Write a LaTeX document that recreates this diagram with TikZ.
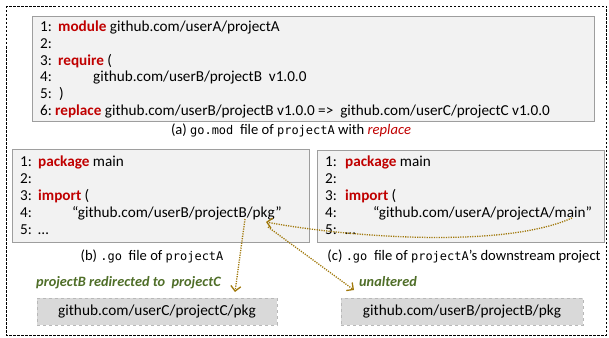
\documentclass[tikz,border=0pt]{standalone}
\usepackage{fontspec}
\setmainfont{Carlito}
\setmonofont{DejaVu Sans Mono}[Scale=0.82]
\usetikzlibrary{arrows.meta}
\definecolor{kwred}{RGB}{192,0,0}
\definecolor{notegreen}{RGB}{79,110,40}
\definecolor{linkgold}{RGB}{160,120,10}
\definecolor{filegray}{RGB}{242,242,242}
\definecolor{pkggray}{RGB}{217,217,217}
\newcommand{\kw}[1]{\textbf{\textcolor{kwred}{#1}}}

\tikzset{
  code/.style={anchor=base west,inner sep=0pt,font=\fontsize{15.2}{17}\selectfont},
  caption/.style={inner sep=0pt,font=\fontsize{14.6}{17}\selectfont},
  filebox/.style={draw=black!38,fill=filegray,line width=0.9pt,anchor=north west,inner sep=0pt},
  pkgbox/.style={draw=black!28,dashed,fill=pkggray,line width=0.8pt,minimum height=27pt,
    inner sep=0pt,font=\fontsize{15.3}{17}\selectfont},
  note/.style={anchor=base west,inner sep=0pt,text=notegreen,font=\fontsize{14.3}{16}\selectfont\bfseries\itshape},
  link/.style={draw=linkgold,line width=1.3pt,dash pattern=on 1.2pt off 1.2pt,
    -{Straight Barb[length=5pt,width=10pt]}}
}

\begin{document}
\begin{tikzpicture}[x=1pt,y=-1pt]
\useasboundingbox (0,0) rectangle (609,337);
\draw[dash pattern=on 2.5pt off 1.5pt,line width=0.8pt] (6,6) rectangle (606,335);

% (a) go.mod
\node[filebox,minimum width=562pt,minimum height=105pt] (boxa) at (32,16) {};
\node[code] (a1) at (40,32) {\makebox[18pt][l]{1:}\kw{module} github.com/userA/projectA};
\node[code] (a2) at (40,48.6) {2:};
\node[code] (a3) at (40,65.2) {\makebox[18pt][l]{3:}\kw{require} (};
\node[code] (a4) at (40,81.8) {\makebox[53pt][l]{4:}github.com/userB/projectB\ \ v1.0.0};
\node[code] (a5) at (40,98.4) {\makebox[19pt][l]{5:}) };
\node[code] (a6) at (40,115) {\makebox[15pt][l]{6:}\kw{replace} github.com/userB/projectB v1.0.0 =>\ \ github.com/userC/projectC v1.0.0};
\node[caption] (capa) at (291,130) {(a) \texttt{go.mod}\ \ file of \texttt{projectA} with \textcolor{kwred}{\textit{replace}}};

% (b) .go of projectA
\node[filebox,minimum width=297pt,minimum height=93pt] (boxb) at (12,149) {};
\node[code] (b1) at (20,166.5) {\makebox[18pt][l]{1:}\kw{package} main};
\node[code] (b2) at (20,183.5) {2:};
\node[code] (b3) at (20,200.5) {\makebox[18pt][l]{3:}\kw{import} (};
\node[code] (b4) at (20,217.5) {\makebox[52pt][l]{4:}“github.com/userB/projectB/pkg”};
\node[code] (b5) at (20,234.5) {\makebox[18pt][l]{5:}…};
\node[caption] (capb) at (152,256) {(b)\ \texttt{.go}\ \ file of \texttt{projectA}};

% (c) .go of downstream project
\node[filebox,minimum width=287pt,minimum height=92pt] (boxc) at (317,150) {};
\node[code] (c1) at (325,166.5) {\makebox[20pt][l]{1:}\kw{package} main};
\node[code] (c2) at (325,183.5) {2:};
\node[code] (c3) at (325,200.5) {\makebox[20pt][l]{3:}\kw{import} (};
\node[code] (c4) at (325,217.5) {\makebox[48pt][l]{4:}“github.com/userA/projectA/main”};
\node[code] (c5) at (325,234.5) {\makebox[20pt][l]{5:}…};
\node[caption] (capc) at (464,256) {(c) \texttt{.go}\ \ file of \texttt{projectA}’s downstream project};

% resolved packages
\node[note] (redir) at (36,286) {projectB redirected to\ \ projectC};
\node[note] (keep) at (359,286) {unaltered};
\node[pkgbox,minimum width=240pt] (pkgc) at (157,311.5) {github.com/userC/projectC/pkg};
\node[pkgbox,minimum width=242pt] (pkgb) at (462,311.5) {github.com/userB/projectB/pkg};

% links
\coordinate (slash) at (245,219);
\coordinate (pkgend) at (268,227);
\coordinate (pkgtip) at (266,222);
\coordinate (mainend) at (572,218);
\coordinate (tipc) at (235,292);
\coordinate (tipb) at (354,290);
\draw[link] (slash) -- (tipc);
\draw[link] (pkgend) -- (tipb);
\draw[link] (mainend) .. controls (500,250) and (340,236) .. (pkgtip);
\end{tikzpicture}
\end{document}
